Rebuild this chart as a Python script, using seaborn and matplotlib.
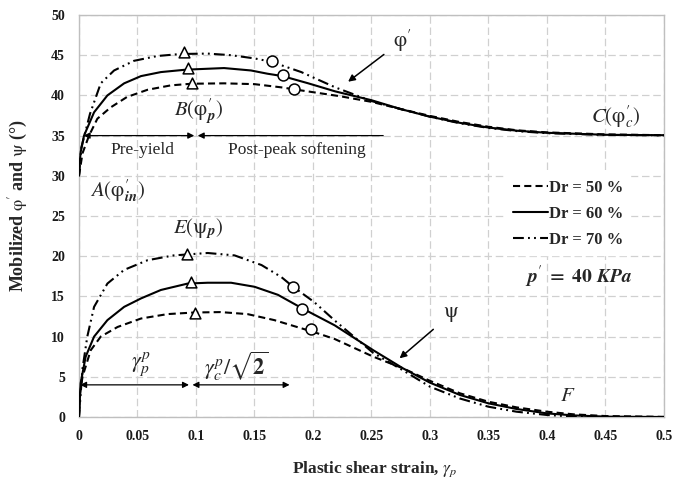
import numpy as np
import pandas as pd
import matplotlib
matplotlib.use("Agg")
import matplotlib.pyplot as plt
from matplotlib.lines import Line2D
import seaborn as sns

# ---- data: mobilized friction angle phi' (deg) vs plastic shear strain ----
phi_x_50 = [0, 0.003, 0.0086, 0.0157, 0.027, 0.041, 0.0586, 0.0786, 0.096, 0.124, 0.15, 0.173,
            0.184, 0.2, 0.223, 0.25, 0.275, 0.3, 0.325, 0.35, 0.375, 0.4, 0.45, 0.5]
phi_y_50 = [30, 32.8, 35, 37.1, 38.5, 39.8, 40.7, 41.25, 41.45, 41.5, 41.4, 41.0,
            40.75, 40.4, 39.9, 39.2, 38.3, 37.45, 36.7, 36.1, 35.65, 35.4, 35.15, 35.05]

phi_x_60 = [0, 0.0005, 0.0015, 0.0043, 0.0129, 0.0243, 0.0386, 0.053, 0.07, 0.0914, 0.124, 0.147,
            0.161, 0.174, 0.196, 0.219, 0.25, 0.275, 0.3, 0.325, 0.35, 0.375, 0.4, 0.45, 0.5]
phi_y_60 = [30, 31.5, 33, 35, 37.9, 40, 41.5, 42.4, 42.9, 43.2, 43.4, 43.1,
            42.7, 42.4, 41.5, 40.5, 39.4, 38.3, 37.35, 36.6, 36.0, 35.6, 35.35, 35.1, 35.05]

phi_x_70 = [0, 0.002, 0.0094, 0.0186, 0.03, 0.047, 0.067, 0.087, 0.11, 0.13, 0.15, 0.164,
            0.19, 0.219, 0.25, 0.275, 0.3, 0.325, 0.35, 0.375, 0.4, 0.45, 0.5]
phi_y_70 = [30, 33.5, 37.7, 41.5, 43.1, 44.3, 44.9, 45.15, 45.2, 45.0, 44.6, 44.2,
            42.9, 41.0, 39.3, 38.3, 37.35, 36.55, 35.95, 35.55, 35.3, 35.08, 35.03]

# ---- data: mobilized dilatancy angle psi (deg) vs plastic shear strain ----
psi_x_50 = [0, 0.001, 0.003, 0.01, 0.0186, 0.033, 0.053, 0.0757, 0.0986, 0.121, 0.144, 0.167,
            0.184, 0.2, 0.2186, 0.2516, 0.277, 0.30, 0.3256, 0.35, 0.374, 0.40, 0.423, 0.45, 0.5]
psi_y_50 = [0, 3.0, 5.0, 8.3, 10.0, 11.2, 12.25, 12.8, 13.0, 13.05, 12.8, 12.05,
            11.3, 10.6, 9.7, 7.5, 6.05, 4.5, 2.95, 1.9, 1.2, 0.66, 0.33, 0.12, 0.02]

psi_x_60 = [0, 0.0014, 0.0057, 0.0129, 0.0243, 0.0386, 0.053, 0.07, 0.093, 0.11, 0.13, 0.15,
            0.17, 0.191, 0.2186, 0.2516, 0.277, 0.30, 0.3256, 0.35, 0.374, 0.40, 0.423, 0.45, 0.5]
psi_y_60 = [0, 4.2, 7.5, 10.0, 12.05, 13.7, 14.75, 15.8, 16.6, 16.7, 16.7, 16.2,
            15.2, 13.5, 11.4, 8.3, 6.05, 4.27, 2.74, 1.7, 1.0, 0.45, 0.2, 0.05, 0.0]

psi_x_70 = [0, 0.003, 0.0071, 0.0129, 0.0243, 0.0386, 0.0586, 0.081, 0.11, 0.133, 0.156, 0.173,
            0.183, 0.201, 0.2186, 0.2516, 0.277, 0.30, 0.3256, 0.35, 0.374, 0.40, 0.423, 0.45, 0.5]
psi_y_70 = [0, 6.0, 10.0, 13.7, 16.6, 18.3, 19.5, 20.1, 20.4, 20.1, 18.9, 17.4,
            16.2, 14.3, 12.0, 7.96, 5.8, 3.77, 2.3, 1.28, 0.66, 0.25, 0.06, 0.0, 0.0]

# ---- characteristic points (order: Dr 50, 60, 70) ----
densities = ["Dr = 50 %", "Dr = 60 %", "Dr = 70 %"]
phi_peak_x = [0.097, 0.093, 0.090]
phi_peak_y = [41.6, 43.45, 45.35]
phi_post_x = [0.184, 0.174, 0.165]
phi_post_y = [40.85, 42.5, 44.25]
psi_peak_x = [0.099, 0.0957, 0.092]
psi_peak_y = [12.96, 16.8, 20.33]
psi_post_x = [0.198, 0.191, 0.183]
psi_post_y = [10.9, 13.42, 16.19]

x_ticks = [0, 0.05, 0.1, 0.15, 0.2, 0.25, 0.3, 0.35, 0.4, 0.45, 0.5]
x_tick_labels = ["0", "0.05", "0.1", "0.15", "0.2", "0.25", "0.3", "0.35", "0.4", "0.45", "0.5"]
y_ticks = [0, 5, 10, 15, 20, 25, 30, 35, 40, 45, 50]

# ---- long-form tables ----
def curve_frame(xs, ys, label, qty):
    return pd.DataFrame({"strain": xs, "angle": ys, "Dr": label, "qty": qty})

curves = pd.concat([
    curve_frame(phi_x_50, phi_y_50, densities[0], "phi"),
    curve_frame(phi_x_60, phi_y_60, densities[1], "phi"),
    curve_frame(phi_x_70, phi_y_70, densities[2], "phi"),
    curve_frame(psi_x_50, psi_y_50, densities[0], "psi"),
    curve_frame(psi_x_60, psi_y_60, densities[1], "psi"),
    curve_frame(psi_x_70, psi_y_70, densities[2], "psi"),
], ignore_index=True)

peaks = pd.DataFrame({"strain": phi_peak_x + psi_peak_x, "angle": phi_peak_y + psi_peak_y})
posts = pd.DataFrame({"strain": phi_post_x + psi_post_x, "angle": phi_post_y + psi_post_y})

# ---- style ----
sns.set_theme(style="white")
plt.rcParams["font.family"] = ["Liberation Serif", "DejaVu Serif"]
plt.rcParams["mathtext.fontset"] = "stix"

dash_styles = {
    densities[0]: (3.4, 2.0),
    densities[1]: "",
    densities[2]: (5.2, 2.0, 0.9, 2.0, 0.9, 2.0),
}

fig = plt.figure(figsize=(6.88, 4.79), dpi=100)
ax = fig.add_axes([0.1148, 0.1294, 0.8503, 0.8393])

for qty in ["phi", "psi"]:
    sub = curves[curves["qty"] == qty]
    sns.lineplot(data=sub, x="strain", y="angle", style="Dr", units="Dr",
                 estimator=None, sort=False, dashes=dash_styles, color="black",
                 linewidth=1.5, legend=False, ax=ax, zorder=3)

sns.scatterplot(data=peaks, x="strain", y="angle", marker="^", s=60,
                facecolor="white", edgecolor="black", linewidth=1.1, ax=ax, zorder=5)
sns.scatterplot(data=posts, x="strain", y="angle", marker="o", s=62,
                facecolor="white", edgecolor="black", linewidth=1.1, ax=ax, zorder=5)

ax.set_xlim(0, 0.5)
ax.set_ylim(0, 50)
ax.set_xticks(x_ticks)
ax.set_xticklabels(x_tick_labels)
ax.set_yticks(y_ticks)
ax.tick_params(axis="both", length=0, labelsize=10, colors="#1a1a1a")
ax.tick_params(axis="x", pad=9)
ax.tick_params(axis="y", pad=10)
for lbl in ax.get_xticklabels() + ax.get_yticklabels():
    lbl.set_fontweight("bold")

ax.grid(True, color="#d0d0d0", linestyle=(0, (6, 3)), linewidth=0.9)
ax.set_axisbelow(True)
for sp in ax.spines.values():
    sp.set_color("#bfbfbf")
    sp.set_linewidth(1.0)

ax.set_xlabel(r"Plastic shear strain, $\gamma_p$", fontsize=12.5, fontweight="bold")
ax.set_ylabel(r"Mobilized $\mathrm{\varphi}^{\prime}$ and $\mathrm{\psi}$ (°)",
              fontsize=13, fontweight="bold")
ax.xaxis.set_label_coords(0.506, -0.105)
ax.yaxis.set_label_coords(-0.083, 0.525)

# ---- strain range arrows ----
arrow_kw = dict(color="black", lw=0.9, shrinkA=0, shrinkB=0, mutation_scale=9)
ax.annotate("", xy=(0.0985, 35), xytext=(0.004, 35),
            arrowprops=dict(arrowstyle="<|-|>", **arrow_kw))
ax.annotate("", xy=(0.1015, 35), xytext=(0.26, 35),
            arrowprops=dict(arrowstyle="-|>", **arrow_kw))
ax.annotate("", xy=(0.094, 4.0), xytext=(0.001, 4.0),
            arrowprops=dict(arrowstyle="<|-|>", **arrow_kw))
ax.annotate("", xy=(0.18, 4.0), xytext=(0.097, 4.0),
            arrowprops=dict(arrowstyle="<|-|>", **arrow_kw))

# pointer arrows to the two curve families
ax.annotate(r"$\mathrm{\varphi}^{\prime}$", xy=(0.230, 41.7), xytext=(0.276, 46.8),
            fontsize=15, ha="center", va="center",
            arrowprops=dict(arrowstyle="-|>", color="black", lw=1.1,
                            shrinkA=5, shrinkB=0, mutation_scale=10))
ax.annotate(r"$\mathrm{\psi}$", xy=(0.274, 7.3), xytext=(0.318, 12.8),
            fontsize=15, ha="center", va="center",
            arrowprops=dict(arrowstyle="-|>", color="black", lw=1.1,
                            shrinkA=6, shrinkB=0, mutation_scale=10))

# ---- labels of characteristic states ----
ax.text(0.033, 28.1, r"$A(\mathrm{\varphi}^{\prime}_{\boldsymbol{in}})$", fontsize=15,
        ha="center", va="center")
ax.text(0.102, 37.9, r"$B(\mathrm{\varphi}^{\prime}_{\boldsymbol{p}})$", fontsize=15,
        ha="center", va="center")
ax.text(0.459, 37.35, r"$C(\mathrm{\varphi}^{\prime}_{c})$", fontsize=15,
        ha="center", va="center")
ax.text(0.102, 23.5, r"$E(\mathrm{\psi}_{\boldsymbol{p}})$", fontsize=15, ha="center", va="center")
ax.text(0.418, 2.5, r"$F$", fontsize=15, ha="center", va="center")
ax.text(0.054, 33.2, "Pre-yield", fontsize=12.5, ha="center", va="center")
ax.text(0.186, 33.2, "Post-peak softening", fontsize=12.5, ha="center", va="center")
ax.text(0.053, 6.6, r"$\gamma^{p}_{p}$", fontsize=16, ha="center", va="center")
ax.text(0.135, 6.3, r"$\gamma^{p}_{c}/\sqrt{\mathbf{2}}$", fontsize=16, ha="center", va="center")
ax.text(0.427, 17.45, r"$\boldsymbol{p}^{\prime}\ \mathbf{=\ 40}\ \boldsymbol{KPa}$",
        fontsize=14, ha="center", va="center")

# ---- legend ----
handles = [Line2D([], [], color="black", lw=1.5,
                  dashes=dash_styles[d] if dash_styles[d] else (None, None))
           for d in densities]
handles[1].set_linestyle("-")
leg = ax.legend(handles, densities, loc="upper left", bbox_to_anchor=(0.358, 31.4),
                bbox_transform=ax.transData, frameon=True, facecolor="white",
                edgecolor="white", framealpha=1.0, fancybox=False,
                handlelength=2.1, handletextpad=0.05, labelspacing=0.62,
                borderpad=0.4, prop={"family": "Liberation Serif", "weight": "bold", "size": 12})
leg.set_zorder(4)

fig.savefig("out.png", dpi=100)
